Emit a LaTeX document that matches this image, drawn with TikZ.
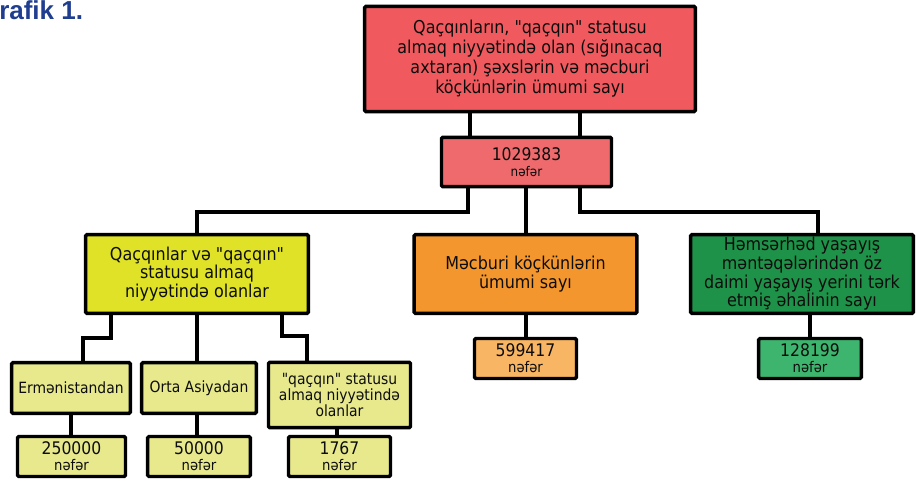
\documentclass[tikz,border=0pt]{standalone}
\usepackage{fontspec}
\setmainfont{DejaVu Sans}[FakeStretch=0.9, Ligatures=TeXOff]
\newfontfamily\titlefont{Liberation Sans}
\usetikzlibrary{positioning}

\definecolor{topred}{HTML}{F05A5E}
\definecolor{totred}{HTML}{EE6A6C}
\definecolor{lime}{HTML}{DFE226}
\definecolor{palelime}{HTML}{E7E98C}
\definecolor{orng}{HTML}{F3962E}
\definecolor{paleorng}{HTML}{F8B563}
\definecolor{grn}{HTML}{1F9249}
\definecolor{palegrn}{HTML}{3DB56E}
\definecolor{titleblue}{HTML}{1F3E8F}

\tikzset{
  box/.style={draw=black, line width=2.6pt, rounded corners=1pt, inner sep=0pt,
    align=center, text=black!95, font=\fontsize{13.3}{14}\selectfont},
  valbox/.style={box, font=\fontsize{13}{12}\selectfont},
  subbox/.style={box, fill=palelime, font=\fontsize{11.6}{11.8}\selectfont},
  conn/.style={draw=black, line width=3pt}
}
\newcommand{\nefer}[1][10]{\fontsize{#1}{#1}\selectfont nəfər}

\begin{document}
\begin{tikzpicture}[x=0.75pt, y=-0.75pt]
    \useasboundingbox (0,0) rectangle (916,481);

    % Title
    \node[anchor=base west, inner sep=0pt, text=titleblue,
      font=\titlefont\bfseries\fontsize{19.5}{20}\selectfont] (title) at (-1,20) {rafik 1.};

    % Total
    \node[box, fill=topred, minimum width=248pt, minimum height=79pt,
      font=\fontsize{13.3}{15}\selectfont] (top) at (530,59)
      {Qaçqınların, "qaçqın" statusu\\almaq niyyətində olan (sığınacaq\\axtaran) şəxslərin və məcburi\\köçkünlərin ümumi sayı};
    \node[valbox, fill=totred, minimum width=127.5pt, minimum height=37pt] (tot) at (526.5,162)
      {1029383\\\nefer};

    % ================================
    % Second row

    \node[box, fill=lime, minimum width=167pt, minimum height=59pt] (yel) at (197,274)
      {Qaçqınlar və "qaçqın"\\statusu almaq\\niyyətində olanlar};
    \node[box, fill=orng, minimum width=167pt, minimum height=59pt] (ora) at (525.5,274)
      {Məcburi köçkünlərin\\ümumi sayı};
    \node[box, fill=grn, minimum width=167pt, minimum height=59pt] (grn) at (802,274)
      {Həmsərhəd yaşayış\\məntəqələrindən öz\\daimi yaşayış yerini tərk\\etmiş əhalinin sayı};

    \node[valbox, fill=paleorng, minimum width=76.5pt, minimum height=30pt] (oraV) at (525.5,358.5)
      {599417\\\nefer[11]};
    \node[valbox, fill=palegrn, minimum width=77pt, minimum height=30pt] (grnV) at (810,358.5)
      {128199\\\nefer[11]};

    % ================================
    % Third row

    \node[subbox, minimum width=89pt, minimum height=38pt] (erm) at (71,388) {Ermənistandan};
    \node[subbox, minimum width=86pt, minimum height=38pt] (orta) at (199,388) {Orta Asiyadan};
    \node[subbox, minimum width=106.5pt, minimum height=49pt] (qst) at (339.5,395)
      {"qaçqın" statusu\\almaq niyyətində\\olanlar};

    \node[valbox, fill=palelime, minimum width=81pt, minimum height=30pt] (ermV) at (71.5,456.5)
      {250000\\\nefer[11]};
    \node[valbox, fill=palelime, minimum width=77pt, minimum height=30pt] (ortaV) at (199,456.5)
      {50000\\\nefer[11]};
    \node[valbox, fill=palelime, minimum width=76.5pt, minimum height=30pt] (qstV) at (339.5,456.5)
      {1767\\\nefer[11]};

    % ================================
    % Connectors

    \draw[conn] (top.south -| 470,0) -- (tot.north -| 470,0);
    \draw[conn] (top.south -| 580,0) -- (tot.north -| 580,0);

    \draw[conn] (tot.south -| 468,0) -- (468,212) -| (yel.north);
    \draw[conn] (tot.south -| ora.north) -- (ora.north);
    \draw[conn] (tot.south -| 580,0) -- (580,212) -| (grn.north -| 818,0);

    \draw[conn] (ora.south) -- (oraV.north);
    \draw[conn] (grnV.north |- grn.south) -- (grnV.north);

    \draw[conn] (yel.south -| 111,0) -- (111,338) -| (erm.north -| 83,0);
    \draw[conn] (yel.south) -- (yel.south |- orta.north);
    \draw[conn] (yel.south -| 282,0) -- (282,336) -| (qst.north -| 307,0);

    \draw[conn] (erm.south) -- (erm.south |- ermV.north);
    \draw[conn] (orta.south -| 197,0) -- (ortaV.north -| 197,0);
    \draw[conn] (qst.south -| 337,0) -- (qstV.north -| 337,0);

\end{tikzpicture}
\end{document}
